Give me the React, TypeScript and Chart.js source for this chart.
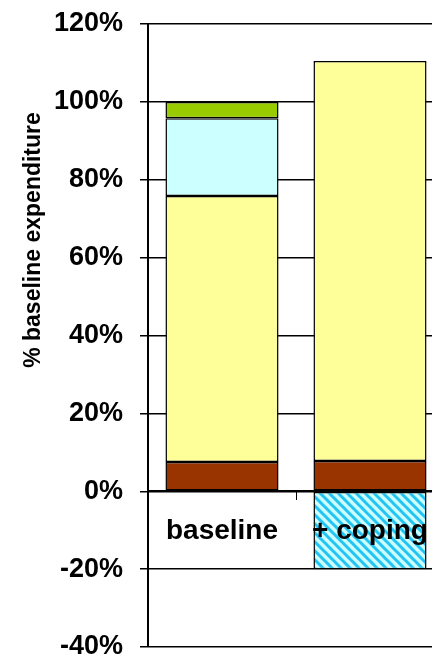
import React, { useEffect, useRef } from "react";
import { Chart, registerables } from "chart.js";

Chart.register(...registerables);

const categories = ["baseline", "+ coping"];
const brownShare = [7.5, 7.8];
const yellowShare = [68.3, 102.7];
const cyanShare: (number | null)[] = [20, null];
const greenShare: (number | null)[] = [4.2, null];
const copingShare: (number | null)[] = [null, -20];
const yMin = -40;
const yMax = 120;
const yStep = 20;
const yTitle = "% baseline expenditure";

const FONT = "'Liberation Sans', Arial, Helvetica, sans-serif";

function makeHatch(): CanvasPattern | string {
  const c = document.createElement("canvas");
  c.width = 9;
  c.height = 9;
  const g = c.getContext("2d");
  if (!g) return "#CCFFFF";
  g.fillStyle = "#CCFFFF";
  g.fillRect(0, 0, 9, 9);
  g.strokeStyle = "#22C4F4";
  g.lineWidth = 3;
  g.beginPath();
  for (const k of [-9, 0, 9]) {
    g.moveTo(k - 1, -1);
    g.lineTo(k + 10, 10);
  }
  g.stroke();
  const p = g.createPattern(c, "repeat");
  return p || "#CCFFFF";
}

// canvas is shifted up by SHIFT px inside a clipped 432x660 box
const SHIFT = 16;

const titlePlugin = {
  id: "yTitleText",
  afterDraw(chart: any) {
    const ctx = chart.ctx;
    ctx.save();
    ctx.translate(34, 240 + SHIFT);
    ctx.rotate(-Math.PI / 2);
    ctx.font = `bold 23px ${FONT}`;
    ctx.fillStyle = "#000";
    ctx.textAlign = "center";
    ctx.textBaseline = "middle";
    ctx.fillText(yTitle, 0, 0);
    ctx.restore();
  },
};

export default function App() {
  const ref = useRef<HTMLCanvasElement>(null);

  useEffect(() => {
    if (!ref.current) return;
    const hatch = makeHatch();
    const common = {
      borderColor: "#000",
      borderWidth: 1.5,
      borderSkipped: false as const,
      barPercentage: 0.764,
      categoryPercentage: 1,
    };
    const chart = new Chart(ref.current, {
      type: "bar",
      data: {
        labels: categories,
        datasets: [
          { label: "brown", data: brownShare, backgroundColor: "#993300", ...common },
          { label: "yellow", data: yellowShare, backgroundColor: "#FFFF99", ...common },
          { label: "cyan", data: cyanShare, backgroundColor: "#CCFFFF", ...common },
          { label: "green", data: greenShare, backgroundColor: "#99CC00", ...common },
          { label: "coping", data: copingShare, backgroundColor: hatch as any, ...common },
        ],
      },
      options: {
        responsive: false,
        animation: false,
        layout: { padding: { left: 45, right: 40, top: 40, bottom: 40 } },
        plugins: {
          legend: { display: false },
          tooltip: { enabled: false },
          title: { display: false },
        },
        scales: {
          x: {
            type: "category",
            stacked: true,
            position: { y: 0 } as any,
            offset: true,
            grid: {
              drawOnChartArea: false,
              drawTicks: true,
              tickLength: 8,
              color: "#000",
              lineWidth: 1,
              offset: true,
            },
            border: { display: true, color: "#000", width: 2, z: 1 } as any,
            ticks: {
              color: "#000",
              padding: 15,
              z: 1,
              maxRotation: 0,
              autoSkip: false,
              font: { family: FONT, size: 28, weight: "bold" },
            },
          },
          y: {
            stacked: true,
            min: yMin,
            max: yMax,
            afterFit(scale: any) {
              scale.width = 103;
            },
            grid: {
              color: "#000",
              lineWidth: 1.5,
              tickLength: 8,
              drawTicks: true,
            },
            border: { display: true, color: "#000", width: 2 },
            ticks: {
              stepSize: yStep,
              color: "#000",
              padding: 17,
              font: { family: FONT, size: 27, weight: "bold" },
              callback: (v: any) => `${v}%`,
            },
          },
        },
      },
      plugins: [titlePlugin],
    });
    return () => chart.destroy();
  }, []);

  return (
    <div
      style={{
        position: "absolute",
        left: 0,
        top: 0,
        width: 432,
        height: 660,
        overflow: "hidden",
        background: "#fff",
      }}
    >
      <canvas
        ref={ref}
        width={484}
        height={703}
        style={{ display: "block", marginTop: -SHIFT }}
      />
    </div>
  );
}
